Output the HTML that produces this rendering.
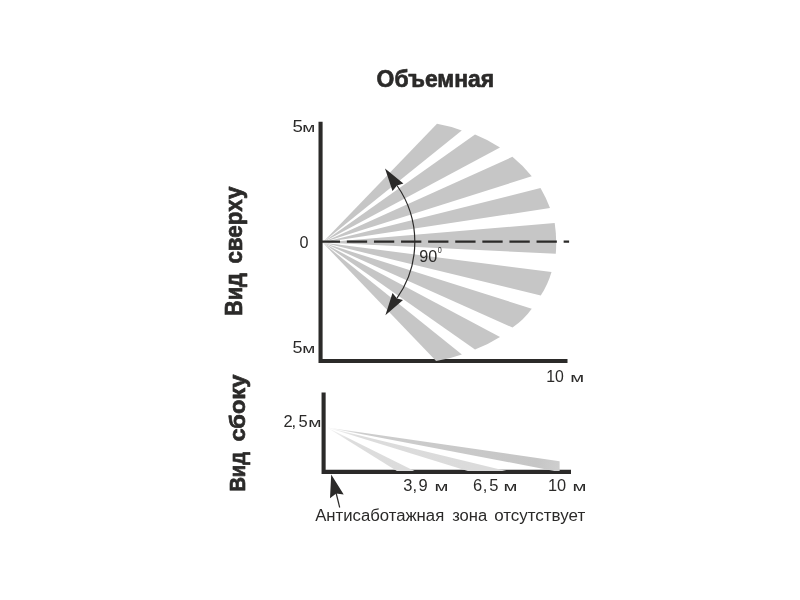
<!DOCTYPE html>
<html lang="ru">
<head>
<meta charset="utf-8">
<title>Объемная</title>
<style>
  html, body { margin: 0; padding: 0; background: #ffffff; }
  body { width: 800px; height: 600px; overflow: hidden; }
  svg { display: block; }
  text { font-family: "Liberation Sans", sans-serif; fill: #2b2a29; }
  .b { font-weight: bold; stroke: #2b2a29; stroke-width: 0.7px; stroke-linejoin: round; }
</style>
</head>
<body>
<svg width="800" height="600" viewBox="0 0 800 600">
  <defs>
    <linearGradient id="g1" gradientUnits="userSpaceOnUse" x1="327" y1="427" x2="405" y2="470">
      <stop offset="0" stop-color="#f6f6f6"/>
      <stop offset="0.3" stop-color="#dddddd"/>
      <stop offset="1" stop-color="#dcdcdc"/>
    </linearGradient>
    <linearGradient id="g2" gradientUnits="userSpaceOnUse" x1="327" y1="427" x2="487" y2="470">
      <stop offset="0" stop-color="#f6f6f6"/>
      <stop offset="0.2" stop-color="#dcdcdc"/>
      <stop offset="1" stop-color="#dbdbdb"/>
    </linearGradient>
    <linearGradient id="g3" gradientUnits="userSpaceOnUse" x1="327" y1="427" x2="560" y2="466">
      <stop offset="0" stop-color="#f2f2f2"/>
      <stop offset="0.15" stop-color="#cdcdcd"/>
      <stop offset="0.9" stop-color="#c6c6c6"/>
      <stop offset="1" stop-color="#cecece"/>
    </linearGradient>
  </defs>
  <rect width="800" height="600" fill="#ffffff"/>

  <!-- top view: axes -->
  <path d="M320.55,121.8 V361 H567.5" fill="none" stroke="#2b2a29" stroke-width="4.1"/>

  <!-- top view: beams -->
  <g fill="#c6c6c6">
    <path d="M322.6,242.6 L437,123.75 A135 135 0 0 1 461.75,130.5 Z"/>
    <path d="M322.6,242.6 L475,134.5 A135 135 0 0 1 500,147.5 Z"/>
    <path d="M322.6,242.6 L512.4,156.8 A135 135 0 0 1 531.75,176.25 Z"/>
    <path d="M322.6,242.6 L540.5,188 A135 135 0 0 1 550,208 Z"/>
    <path d="M322.6,242.6 L554.7,223 A135 135 0 0 1 555.8,253.7 Z"/>
    <path d="M322.6,242.6 L551.5,272 A85 85 0 0 1 540.75,295.5 Z"/>
    <path d="M322.6,242.6 L531.75,308.75 A75 75 0 0 1 512.5,327.5 Z"/>
    <path d="M322.6,242.6 L500,337 A135 135 0 0 1 475,349.5 Z"/>
    <path d="M322.6,242.6 L461.9,354.4 A135 135 0 0 1 436.1,360.9 Z"/>
  </g>

  <!-- dashed centre line -->
  <path d="M319.75,241.6 H569.1" fill="none" stroke="#2b2a29" stroke-width="2.25" stroke-dasharray="20.3 6.8"/>

  <!-- 90 degree arc with arrows -->
  <path d="M397,185.5 A98 98 0 0 1 397,298.2" fill="none" stroke="#2b2a29" stroke-width="1.2"/>
  <path d="M385,168.6 L403.4,183.4 L397,185.5 L392.5,190.9 Z" fill="#2b2a29"/>
  <path d="M385.4,315.25 L392.5,292.9 L397,298.4 L403,300.1 Z" fill="#2b2a29"/>

  <!-- side view: axes -->
  <path d="M323.6,392.4 V471.9 H571" fill="none" stroke="#2b2a29" stroke-width="4.1"/>

  <!-- side view: beams -->
  <path d="M327,427.4 L414.5,470.9 L396.9,470.9 Z" fill="url(#g1)"/>
  <path d="M327,427.4 L506.3,470.9 L467.8,470.9 Z" fill="url(#g2)"/>
  <path d="M327,427.4 L559.6,461.3 L559.6,470.9 L554.3,470.9 Z" fill="url(#g3)"/>

  <!-- pointer arrow -->
  <path d="M336.1,493 L339.7,507.5" fill="none" stroke="#2b2a29" stroke-width="1.2"/>
  <path d="M331.2,474.5 L343.7,494.5 L336.2,493.6 L330,498.2 Z" fill="#2b2a29"/>

  <!-- labels -->
  <text class="b" x="376.6" y="87.2" font-size="24.6" textLength="117.6" lengthAdjust="spacingAndGlyphs">Объемная</text>

  <text y="131.75" font-size="16.5"><tspan x="292.4" textLength="10.4" lengthAdjust="spacingAndGlyphs">5</tspan><tspan x="302.3" font-size="12.6" textLength="13" lengthAdjust="spacingAndGlyphs">м</tspan></text>
  <text x="299.4" y="247.5" font-size="16" textLength="9" lengthAdjust="spacingAndGlyphs">0</text>
  <text y="353" font-size="16.5"><tspan x="292.4" textLength="10.0" lengthAdjust="spacingAndGlyphs">5</tspan><tspan x="302.2" font-size="12.6" textLength="13" lengthAdjust="spacingAndGlyphs">м</tspan></text>
  <text y="381.5" font-size="16.5"><tspan x="546.2" textLength="17.6" lengthAdjust="spacingAndGlyphs">10</tspan> <tspan x="570.3" font-size="12.6" textLength="13.9" lengthAdjust="spacingAndGlyphs">м</tspan></text>
  <text x="419.3" y="261.8" font-size="17" textLength="18" lengthAdjust="spacingAndGlyphs">90</text>
  <text x="437.7" y="253.2" font-size="9" textLength="4" lengthAdjust="spacingAndGlyphs">0</text>

  <text class="b" transform="translate(241.5,314.6) rotate(-90)" font-size="24"><tspan x="-1.5" textLength="43" lengthAdjust="spacingAndGlyphs">Вид</tspan> <tspan x="51" textLength="77" lengthAdjust="spacingAndGlyphs">сверху</tspan></text>
  <text class="b" transform="translate(244.8,490.2) rotate(-90)" font-size="22.5"><tspan x="-1.4" textLength="39.5" lengthAdjust="spacingAndGlyphs">Вид</tspan> <tspan x="48.6" textLength="67" lengthAdjust="spacingAndGlyphs">сбоку</tspan></text>

  <text y="427" font-size="16.5"><tspan x="283.5 291.6 298.4">2,5</tspan><tspan x="308.3" font-size="12.6" textLength="13.2" lengthAdjust="spacingAndGlyphs">м</tspan></text>
  <text y="491" font-size="16.5"><tspan x="403.3 412.5 418.6">3,9</tspan> <tspan x="434.6" font-size="12.6" textLength="13.9" lengthAdjust="spacingAndGlyphs">м</tspan></text>
  <text y="491" font-size="16.5"><tspan x="472.9 482.7 489.3">6,5</tspan> <tspan x="503.6" font-size="12.6" textLength="13.9" lengthAdjust="spacingAndGlyphs">м</tspan></text>
  <text y="491" font-size="16.5"><tspan x="548.0" textLength="18.2" lengthAdjust="spacingAndGlyphs">10</tspan> <tspan x="572.6" font-size="12.6" textLength="13.9" lengthAdjust="spacingAndGlyphs">м</tspan></text>
  <text y="520.5" font-size="16"><tspan x="315.2" textLength="129" lengthAdjust="spacingAndGlyphs">Антисаботажная</tspan> <tspan x="452.2" textLength="35" lengthAdjust="spacingAndGlyphs">зона</tspan> <tspan x="494.2" textLength="91" lengthAdjust="spacingAndGlyphs">отсутствует</tspan></text>
</svg>
</body>
</html>
